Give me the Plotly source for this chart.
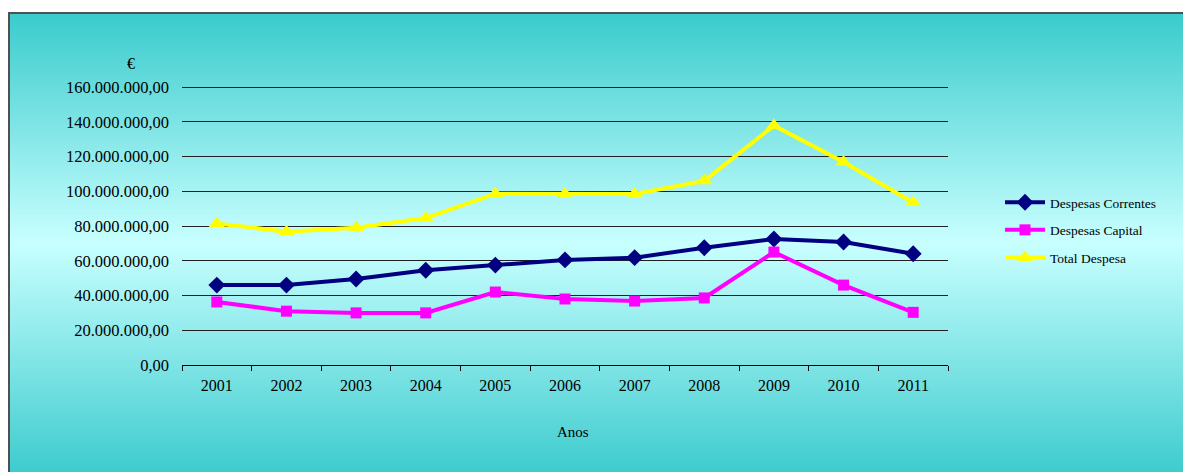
import plotly.graph_objects as go

anos = ["2001", "2002", "2003", "2004", "2005", "2006", "2007", "2008", "2009", "2010", "2011"]
despesas_correntes = [46.0e6, 46.0e6, 49.5e6, 54.5e6, 57.5e6, 60.5e6, 61.8e6, 67.5e6, 72.5e6, 70.8e6, 64.0e6]
despesas_capital = [36.3e6, 31.0e6, 30.0e6, 30.0e6, 42.0e6, 38.0e6, 36.8e6, 38.6e6, 65.0e6, 46.0e6, 30.3e6]
total_despesa = [81.5e6, 76.7e6, 79.0e6, 84.6e6, 98.6e6, 98.4e6, 98.5e6, 106.0e6, 137.8e6, 116.8e6, 93.5e6]
y_tick_vals = [0, 20e6, 40e6, 60e6, 80e6, 100e6, 120e6, 140e6, 160e6]
y_tick_text = ["0,00", "20.000.000,00", "40.000.000,00", "60.000.000,00", "80.000.000,00",
               "100.000.000,00", "120.000.000,00", "140.000.000,00", "160.000.000,00"]

OFF = 8  # page body margin
W, H = 1191 - OFF, 472 - OFF
YMAX = 160.6e6
# reference pixel geometry (page coordinates)
L_ref, R_ref, B_ref = 182, 948, 365
T_ref = 87 - (YMAX - 160e6) / 160e6 * (365 - 87)
L, R, T, B = L_ref - OFF, R_ref - OFF, T_ref - OFF, B_ref - OFF
pw, ph = R - L, B - T

def px(x):  # page x -> paper
    return (x - OFF - L) / pw

def py(y):  # page y -> paper
    return (B - (y - OFF)) / ph

FONT = "Liberation Serif, Times New Roman, serif"

fig = go.Figure()
fig.add_trace(go.Scatter(x=anos, y=despesas_correntes, name="Despesas Correntes", mode="lines+markers",
                         line=dict(color="#000080", width=4), legendgroup="a",
                         marker=dict(symbol="diamond", size=13, color="#000080")))
fig.add_trace(go.Scatter(x=anos, y=despesas_capital, name="Despesas Capital", mode="lines+markers",
                         line=dict(color="#FF00FF", width=4), legendgroup="b",
                         marker=dict(symbol="square", size=11, color="#FF00FF")))
fig.add_trace(go.Scatter(x=anos, y=total_despesa, name="Total Despesa", mode="lines+markers",
                         line=dict(color="#FFFF00", width=4), legendgroup="c",
                         marker=dict(symbol="triangle-up", size=14, color="#FFFF00")))

# gradient background bands
top_c = (58, 203, 204)
mid_c = (200, 255, 255)
bot_c = (62, 204, 206)
y0, ymid, y1 = 13, 243, 472
shapes = []
step = 2
yy = y0
while yy < y1:
    yc = yy + step / 2
    if yc <= ymid:
        t = (yc - y0) / (ymid - y0)
        c = [round(top_c[i] + (mid_c[i] - top_c[i]) * t) for i in range(3)]
    else:
        t = (yc - ymid) / (y1 - ymid)
        c = [round(mid_c[i] + (bot_c[i] - mid_c[i]) * t) for i in range(3)]
    col = "rgb(%d,%d,%d)" % tuple(c)
    shapes.append(dict(type="rect", xref="paper", yref="paper", layer="below",
                       x0=px(9), x1=px(1191 + 5), y0=py(yy), y1=py(min(yy + step + 0.6, y1 + 5)),
                       fillcolor=col, line=dict(width=0)))
    yy += step
shapes.append(dict(type="rect", xref="paper", yref="paper", layer="above",
                   x0=px(9), x1=px(1191 + 10), y0=py(13), y1=py(472 + 10),
                   line=dict(color="#505050", width=2), fillcolor="rgba(0,0,0,0)"))

fig.update_layout(
    width=W, height=H,
    margin=dict(l=L, r=W - R, t=T, b=H - B),
    paper_bgcolor="white", plot_bgcolor="rgba(0,0,0,0)",
    font=dict(family=FONT, size=15, color="#000000"),
    shapes=shapes,
    showlegend=True,
    legend=dict(x=px(1000), y=py(187), xanchor="left", yanchor="top",
                bgcolor="rgba(0,0,0,0)", font=dict(family=FONT, size=13.5, color="#000"),
                tracegroupgap=7, itemwidth=40),
    annotations=[
        dict(text="€", xref="paper", yref="paper", x=px(131), y=py(63), showarrow=False,
             xanchor="center", yanchor="middle",
             font=dict(family=FONT, size=16, color="#000")),
        dict(text="Anos", xref="paper", yref="paper", x=px(573), y=py(432), showarrow=False,
             xanchor="center", yanchor="middle",
             font=dict(family=FONT, size=15, color="#000")),
    ],
)
fig.update_xaxes(type="category", range=[-0.5, len(anos) - 0.5], showline=True,
                 linecolor="#000", linewidth=1,
                 ticks="outside", ticklen=5, tickcolor="#000", tickson="boundaries",
                 showgrid=False, ticklabelstandoff=6, tickfont=dict(family=FONT, size=16))
fig.update_yaxes(range=[0, YMAX], tickvals=y_tick_vals, ticktext=y_tick_text,
                 showgrid=True, gridcolor="#202020", gridwidth=1, zeroline=False,
                 showline=False, ticks="", ticklabelstandoff=12,
                 tickfont=dict(family=FONT, size=16.5))

fig.write_html("out.html")
